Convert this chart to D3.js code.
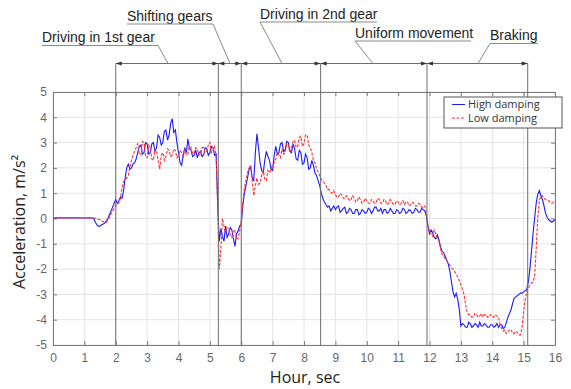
<!DOCTYPE html>
<html><head><meta charset="utf-8">
<script src="https://cdn.jsdelivr.net/npm/d3@7"></script>
<style>body{margin:0;background:#fff}svg{display:block}</style>
</head><body>
<svg id="chart" width="571" height="389"></svg>
<script>
// ---- data ----
const sampleStep = 0.05; // seconds between samples, starting at 0
const highDamping = [
  0.02,0.02, 0.03,0.02, 0.02,0.03, 0.02,0.02, 0.03,0.02, 0.02,0.03, 0.02,0.02, 0.03,0.02, 0.02,0.03, 0.02,0.02,
  0.03,0.02, 0.02,0.03, 0.02,0.02, 0.0,-0.15, -0.25,-0.3, -0.3,-0.25, -0.22,-0.18, -0.1,0.0, 0.15,0.3, 0.45,0.6,
  0.75,0.6, 0.7,0.85, 0.8,1.1, 1.6,2.0, 2.15,1.95, 2.0,2.15, 2.2,2.35, 2.6,2.85, 2.9,2.55, 2.6,3.0,
  2.95,2.55, 2.6,2.95, 3.0,2.65, 2.8,3.3, 3.2,2.9, 3.0,3.45, 3.5,3.1, 3.3,3.75, 3.95,3.4, 3.5,3.0,
  2.6,2.2, 2.1,2.5, 2.8,2.6, 3.15,2.75, 2.7,2.45, 2.5,2.7, 2.4,2.6, 2.65,2.45, 2.5,2.8, 2.75,2.5,
  2.6,2.85, 2.8,2.5, 2.55,0.5, -0.9,-0.4, -0.7,-0.9, -0.3,-0.75, -0.6,-0.35, -0.45,-0.8, -1.1,-0.6, -0.5,-0.3,
  -0.2,0.5, 1.0,1.3, 1.6,1.95, 2.05,1.6, 1.5,2.6, 3.35,2.8, 2.2,1.9, 1.8,2.3, 2.65,2.45, 2.3,1.95,
  1.9,2.5, 2.85,2.55, 2.6,2.95, 3.0,2.65, 2.7,3.05, 3.0,2.65, 2.6,2.95, 2.75,2.35, 2.3,2.7, 2.6,2.15,
  2.2,2.55, 2.4,1.95, 2.0,2.3, 2.1,1.8, 1.7,1.5, 1.3,1.0, 0.8,0.65, 0.55,0.45, 0.5,0.3, 0.4,0.5,
  0.35,0.45, 0.5,0.25, 0.3,0.4, 0.45,0.2, 0.25,0.4, 0.35,0.2, 0.2,0.35, 0.35,0.15, 0.2,0.35, 0.3,0.2,
  0.25,0.4, 0.35,0.2, 0.3,0.45, 0.45,0.3, 0.3,0.4, 0.2,0.35, 0.35,0.2, 0.25,0.4, 0.3,0.2, 0.2,0.35,
  0.3,0.2, 0.25,0.4, 0.35,0.2, 0.25,0.35, 0.3,0.2, 0.25,0.4, 0.35,0.25, 0.25,0.4, 0.35,0.3, 0.1,-0.3,
  -0.6,-0.45, -0.55,-0.75, -0.8,-0.65, -0.85,-1.1, -1.3,-1.35, -1.5,-1.65, -1.8,-2.1, -2.5,-2.9, -3.1,-2.95, -3.2,-3.6,
  -4.25,-4.15, -4.2,-4.3, -4.3,-4.1, -4.15,-4.3, -4.25,-4.15, -4.2,-4.3, -4.1,-4.25, -4.25,-4.15, -4.2,-4.3, -4.3,-4.2,
  -4.2,-4.3, -4.25,-4.15, -4.3,-4.2, -4.2,-4.35, -4.3,-4.1, -3.9,-3.75, -3.6,-3.35, -3.15,-3.1, -3.05,-3.0, -2.95,-2.95,
  -2.9,-2.85, -2.8,-2.5, -2.0,-1.3, -0.6,0.0, 0.6,0.95, 1.1,0.9, 0.75,0.5, 0.2,0.05, -0.05,-0.1, -0.15,-0.1,
  -0.05
];
const lowDamping = [
  0.02,0.03, 0.02,0.02, 0.03,0.02, 0.02,0.03, 0.02,0.02, 0.03,0.02, 0.02,0.03, 0.02,0.02, 0.03,0.02, 0.02,0.03,
  0.02,0.02, 0.03,0.02, 0.02,0.02, 0.02,0.01, 0.0,-0.03, -0.05,-0.1, -0.12,-0.14, -0.15,-0.05, 0.05,0.2, 0.3,0.4,
  0.5,0.6, 0.6,0.8, 1.2,1.45, 1.55,1.6, 1.7,2.0, 2.3,2.5, 2.65,2.8, 2.95,2.55, 2.5,3.05, 3.0,2.45,
  2.4,2.9, 2.8,2.35, 2.3,2.75, 2.7,2.3, 1.95,2.5, 2.6,2.3, 2.45,2.75, 2.7,2.45, 2.5,2.75, 2.7,2.4,
  2.5,2.7, 2.6,2.45, 2.75,2.5, 2.55,2.85, 2.8,2.55, 2.6,2.8, 2.75,2.5, 2.55,2.8, 2.8,2.6, 2.65,2.9,
  3.0,2.6, 2.7,2.85, 2.4,0.5, -2.0,-1.2, 0.0,-0.3, -0.6,-0.35, -0.4,-0.65, -0.75,-0.45, -0.5,-0.8, -0.8,-0.5,
  -0.1,0.6, 1.2,1.5, 1.8,2.0, 2.1,1.5, 0.9,1.3, 1.6,1.35, 1.4,1.7, 1.9,1.55, 1.5,1.9, 1.8,1.95,
  2.1,2.2, 2.35,2.6, 2.5,2.4, 2.75,2.55, 2.6,2.95, 2.9,2.6, 2.75,3.05, 3.1,2.8, 2.85,3.2, 3.25,2.85,
  2.95,3.3, 3.3,2.9, 2.8,2.6, 2.3,2.2, 1.95,1.85, 1.7,1.55, 1.45,1.4, 1.3,1.15, 1.15,1.05, 1.0,1.1,
  0.95,0.85, 0.85,1.0, 0.95,0.8, 0.8,0.9, 0.85,0.7, 0.75,0.9, 0.8,0.65, 0.7,0.85, 0.75,0.6, 0.65,0.8,
  0.7,0.6, 0.6,0.75, 0.7,0.6, 0.65,0.8, 0.75,0.6, 0.6,0.75, 0.7,0.55, 0.6,0.75, 0.65,0.55, 0.55,0.7,
  0.65,0.55, 0.6,0.7, 0.55,0.65, 0.65,0.5, 0.55,0.65, 0.6,0.5, 0.5,0.6, 0.55,0.45, 0.45,0.5, 0.2,-0.3,
  -0.5,-0.6, -0.7,-0.45, -0.6,-0.8, -0.85,-1.2, -1.4,-1.5, -1.6,-1.65, -1.75,-1.85, -1.95,-2.0, -2.1,-2.2, -2.3,-2.45,
  -2.6,-2.8, -3.0,-3.4, -3.7,-3.8, -3.8,-3.9, -3.9,-3.75, -3.8,-3.9, -3.85,-3.75, -3.9,-3.8, -3.8,-3.9, -3.9,-3.8,
  -3.85,-3.9, -3.8,-3.85, -3.9,-4.2, -4.35,-4.45, -4.4,-4.55, -4.5,-4.4, -4.4,-4.55, -4.55,-4.45, -4.5,-4.6, -4.6,-4.3,
  -3.7,-3.2, -2.9,-2.75, -2.65,-2.55, -2.5,-2.3, -1.2,0.0, 0.7,0.9, 0.9,0.8, 0.75,0.7, 0.7,0.65, 0.6,0.65,
  0.7
];
const xTicks = [0,1,2,3,4,5,6,7,8,9,10,11,12,13,14,15,16];
const yTicks = [-5,-4,-3,-2,-1,0,1,2,3,4,5];
const yTickLabels = ["-5","-4","-3","-2","-1","0","1","2","3","4","5"];
const phaseBounds = [2, 5.27, 6.0, 8.53, 11.92, 15.13];
const phaseNames = ["Driving in 1st gear","Shifting gears","Driving in 2nd gear","Uniform movement","Braking"];
const seriesNames = ["High damping","Low damping"];

// ---- layout ----
const svg = d3.select("#chart");
const L = 53, R = 555, T = 92, B = 345;
const x = d3.scaleLinear().domain([0,16]).range([L,R]);
const y = d3.scaleLinear().domain([-5,5]).range([B,T]);
const grey = "#7a7a7a";
const tickFont = "'Liberation Sans', Arial, sans-serif";

// grid
const grid = svg.append("g").attr("stroke","#e4e4e4").attr("stroke-width",1);
grid.selectAll(".gx").data(xTicks).join("line")
  .attr("x1",d=>x(d)).attr("x2",d=>x(d)).attr("y1",T).attr("y2",B);
grid.selectAll(".gy").data(yTicks).join("line")
  .attr("y1",d=>y(d)).attr("y2",d=>y(d)).attr("x1",L).attr("x2",R);

// axes
const axB = svg.append("g").attr("transform",`translate(0,${B})`)
  .call(d3.axisBottom(x).tickValues(xTicks).tickSizeInner(-4).tickSizeOuter(0).tickPadding(8).tickFormat(d3.format("d")));
const axL = svg.append("g").attr("transform",`translate(${L},0)`)
  .call(d3.axisLeft(y).tickValues(yTicks).tickSizeInner(-4).tickSizeOuter(0).tickPadding(6).tickFormat((d,i)=>yTickLabels[i]));
const axT = svg.append("g").attr("transform",`translate(0,${T})`)
  .call(d3.axisTop(x).tickValues(xTicks).tickSizeInner(-4).tickSizeOuter(0).tickFormat(""));
const axR = svg.append("g").attr("transform",`translate(${R},0)`)
  .call(d3.axisRight(y).tickValues(yTicks).tickSizeInner(-4).tickSizeOuter(0).tickFormat(""));
[axB,axL,axT,axR].forEach(a=>{
  a.select(".domain").attr("stroke",grey);
  a.selectAll(".tick line").attr("stroke",grey);
  a.selectAll(".tick text").attr("fill","#666").attr("font-size",12).attr("font-family",tickFont);
});

// clip
svg.append("clipPath").attr("id","clip").append("rect")
  .attr("x",L).attr("y",T).attr("width",R-L).attr("height",B-T);

const line = d3.line().x((d,i)=>x(i*sampleStep)).y(d=>y(d));
svg.append("path").datum(highDamping).attr("clip-path","url(#clip)")
  .attr("d",line).attr("fill","none").attr("stroke","#1a1aff").attr("stroke-width",1.1);
svg.append("path").datum(lowDamping).attr("clip-path","url(#clip)")
  .attr("d",line).attr("fill","none").attr("stroke","#ff3030").attr("stroke-width",1.1)
  .attr("stroke-dasharray","3,1.5");

// phase boundaries
const arrowY = 63.5;
svg.append("g").attr("stroke","#6e6e6e").attr("stroke-width",1)
  .selectAll("line").data(phaseBounds).join("line")
  .attr("x1",d=>x(d)).attr("x2",d=>x(d)).attr("y1",arrowY).attr("y2",B);
svg.append("line").attr("x1",x(phaseBounds[0])).attr("x2",x(phaseBounds[phaseBounds.length-1]))
  .attr("y1",arrowY).attr("y2",arrowY).attr("stroke","#6e6e6e");
// arrowheads: each segment has heads pointing to its boundaries
const heads = [];
for (let i=0;i<phaseBounds.length-1;i++){
  heads.push({tip:x(phaseBounds[i]), dir:-1});
  heads.push({tip:x(phaseBounds[i+1]), dir:1});
}
svg.append("g").selectAll("path").data(heads).join("path")
  .attr("d",d=>`M${d.tip},${arrowY} L${d.tip-d.dir*6},${arrowY-2} L${d.tip-d.dir*6},${arrowY+2} Z`)
  .attr("fill","#333");

// annotation labels with underline + leader
const annot = [
  {tx:42, base:41.5, ux2:158, lx1:158, ly1:45.5, lx2:168},
  {tx:127, base:20.5, ux2:213, lx1:213, ly1:24, lx2:230},
  {tx:260, base:18.5, ux2:377, lx1:260, ly1:22, lx2:282},
  {tx:355, base:37.5, ux2:471, lx1:355, ly1:41, lx2:373},
  {tx:490, base:40, ux2:538, lx1:490, ly1:43.5, lx2:478}
];
const ag = svg.append("g");
annot.forEach((a,i)=>{
  ag.append("text").attr("x",a.tx).attr("y",a.base).text(phaseNames[i])
    .attr("font-family",tickFont).attr("font-size",14).attr("fill","#222");
  ag.append("line").attr("x1",a.tx).attr("x2",a.ux2).attr("y1",a.ly1).attr("y2",a.ly1)
    .attr("stroke","#8a8a8a");
  ag.append("line").attr("x1",a.lx1).attr("y1",a.ly1).attr("x2",a.lx2).attr("y2",arrowY)
    .attr("stroke","#8a8a8a");
});

// legend
const lg = svg.append("g");
lg.append("rect").attr("x",444).attr("y",97).attr("width",118).attr("height",31)
  .attr("fill","#fff").attr("stroke","#555").attr("stroke-width",1);
const legendStyles = [{c:"#1a1aff",dash:null},{c:"#ff3030",dash:"3,1.5"}];
seriesNames.forEach((n,i)=>{
  const yy = 104.5 + i*13.5;
  lg.append("line").attr("x1",452).attr("x2",465).attr("y1",yy).attr("y2",yy)
    .attr("stroke",legendStyles[i].c).attr("stroke-dasharray",legendStyles[i].dash);
  lg.append("text").attr("x",468).attr("y",yy+3.5).text(n)
    .attr("font-family","'Open Sans', sans-serif").attr("font-size",11).attr("fill","#333");
});

// axis titles
svg.append("text").attr("x",(L+R)/2+1).attr("y",383).attr("text-anchor","middle")
  .attr("font-family","'Open Sans', sans-serif").attr("font-size",16).attr("fill","#222")
  .text("Hour, sec");
svg.append("text").attr("transform",`translate(25,222) rotate(-90)`).attr("text-anchor","middle")
  .attr("font-family","'Open Sans', sans-serif").attr("font-size",16).attr("fill","#222")
  .text("Acceleration, m/s²");
</script>
</body></html>
